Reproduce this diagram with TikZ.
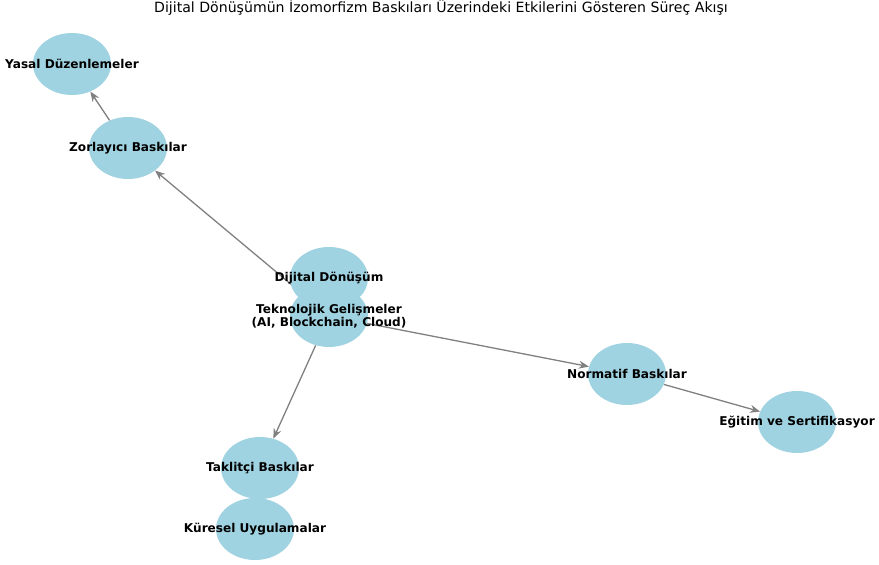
\documentclass[tikz,border=0pt]{standalone}
\usepackage{fontspec}
\setmainfont{DejaVu Sans}
\usetikzlibrary{shapes.geometric,arrows.meta,backgrounds}
\definecolor{nodeblue}{RGB}{160,211,225}

\begin{document}
\begin{tikzpicture}[x=1pt,y=-1pt,
	bubble/.style={ellipse,fill=nodeblue,minimum width=78pt,minimum height=62pt,inner sep=0pt},
	tag/.style={font=\bfseries\fontsize{12.1}{13}\selectfont,align=center,inner sep=0pt},
	flow/.style={draw=gray,line width=1.3pt,-{Stealth[length=10pt,width=8pt]}}]
	\useasboundingbox (0,0) rectangle (879,565);
	\node[font=\fontsize{14.1}{16}\selectfont] (title) at (441,8) {Dijital Dönüşümün İzomorfizm Baskıları Üzerindeki Etkilerini Gösteren Süreç Akışı};
	
	\node[bubble] (dijital) at (329,278) {};
	\node[bubble] (teknoloji) at (329,316) {};
	\node[bubble] (zorlayici) at (128,148) {};
	\node[bubble] (yasal) at (72,64) {};
	\node[bubble] (normatif) at (627,374) {};
	\node[bubble] (egitim) at (797,422) {};
	\node[bubble] (taklitci) at (260,468) {};
	\node[bubble] (kuresel) at (255,529) {};
	
	\node[tag] (dijitaltxt) at (dijital) {Dijital Dönüşüm};
	\node[tag] (teknolojitxt) at (teknoloji) {Teknolojik Gelişmeler\\(AI, Blockchain, Cloud)};
	\node[tag] (zorlayicitxt) at (zorlayici) {Zorlayıcı Baskılar};
	\node[tag] (yasaltxt) at (yasal) {Yasal Düzenlemeler};
	\node[tag] (normatiftxt) at (normatif) {Normatif Baskılar};
	\node[tag] (egitimtxt) at (egitim) {Eğitim ve Sertifikasyor};
	\node[tag] (taklitcitxt) at (taklitci) {Taklitçi Baskılar};
	\node[tag] (kureseltxt) at (kuresel) {Küresel Uygulamalar};
	
	\begin{pgfonlayer}{background}
		\draw[flow] (teknoloji) -- (zorlayici);
		\draw[flow] (teknoloji) -- (normatif);
		\draw[flow] (teknoloji) -- (taklitci);
		\draw[flow] (zorlayici) -- (yasal);
		\draw[flow] (normatif) -- (egitim);
	\end{pgfonlayer}
\end{tikzpicture}
\end{document}
